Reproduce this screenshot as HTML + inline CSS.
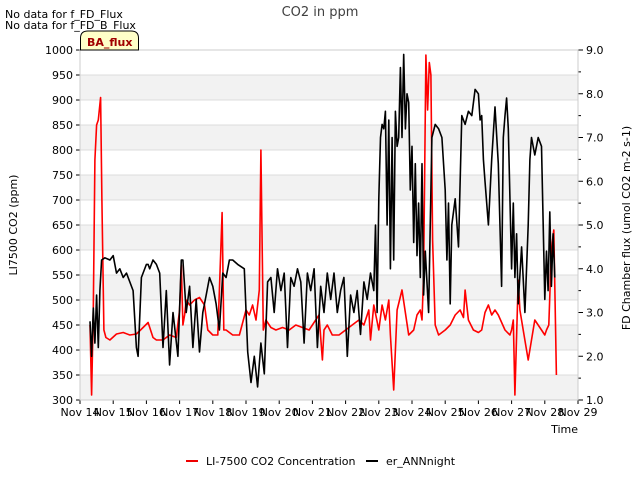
<!DOCTYPE html>
<html><head><meta charset="utf-8"><style>
body{margin:0;background:#fff;font-family:"Liberation Sans","DejaVu Sans",sans-serif}
svg text{font-family:"DejaVu Sans","Liberation Sans",sans-serif}
</style></head><body>
<svg id="c" width="640" height="480" xmlns="http://www.w3.org/2000/svg">
<rect width="640" height="480" fill="#fff"/>
<g id="bands"></g>
<g id="grid"></g>
<g id="series"></g>
<g id="axes"></g>
<text x="320" y="16" text-anchor="middle" font-size="13" fill="#404040">CO2 in ppm</text>
<text x="5" y="18" font-size="11" fill="#000">No data for f_FD_Flux</text>
<text x="5" y="29" font-size="11" fill="#000">No data for f_FD_B_Flux</text>
<g>
<path d="M80.5,50 L80.5,38 Q80.5,31 88,31 L131,31 Q138.5,31 138.5,38 L138.5,50 Z" fill="#ffffc8" stroke="#000" stroke-width="1"/>
<text x="87" y="46" font-size="11" font-weight="bold" fill="#a00000">BA_flux</text>
</g>
<text x="17" y="225" font-size="11" fill="#000" text-anchor="middle" transform="rotate(-90 17 225)">LI7500 CO2 (ppm)</text>
<text x="630" y="228" font-size="11" fill="#000" text-anchor="middle" transform="rotate(-90 630 228)">FD Chamber flux (umol CO2 m-2 s-1)</text>
<text x="578" y="433" font-size="11" fill="#000" text-anchor="end">Time</text>
<g>
<line x1="186" y1="461" x2="198" y2="461" stroke="#e00" stroke-width="2"/>
<text x="206" y="465" font-size="11">LI-7500 CO2 Concentration</text>
<line x1="366" y1="461" x2="378" y2="461" stroke="#000" stroke-width="2"/>
<text x="386" y="465" font-size="11">er_ANNnight</text>
</g>
</svg>
<script>
const xTickLabels=["Nov 14","Nov 15","Nov 16","Nov 17","Nov 18","Nov 19","Nov 20","Nov 21","Nov 22","Nov 23","Nov 24","Nov 25","Nov 26","Nov 27","Nov 28","Nov 29"];
const leftTicks=[300,350,400,450,500,550,600,650,700,750,800,850,900,950,1000];
const rightTicks=[1.0,2.0,3.0,4.0,5.0,6.0,7.0,8.0,9.0];
const redDays=[14.3,14.35,14.4,14.45,14.5,14.55,14.62,14.66,14.72,14.78,14.9,15.1,15.3,15.5,15.7,15.9,16.05,16.2,16.3,16.5,16.7,16.9,17.0,17.05,17.1,17.15,17.2,17.3,17.45,17.6,17.75,17.85,18.0,18.15,18.22,18.28,18.33,18.4,18.6,18.8,19.0,19.1,19.2,19.3,19.4,19.45,19.52,19.6,19.75,19.9,20.1,20.3,20.5,20.7,20.9,21.1,21.2,21.3,21.35,21.45,21.6,21.8,22.0,22.2,22.4,22.55,22.7,22.75,22.85,23.0,23.1,23.2,23.3,23.35,23.45,23.55,23.7,23.9,24.05,24.15,24.25,24.3,24.35,24.42,24.47,24.52,24.57,24.62,24.7,24.8,25.0,25.15,25.3,25.45,25.55,25.6,25.7,25.85,26.0,26.1,26.2,26.3,26.4,26.5,26.6,26.8,26.95,27.0,27.05,27.1,27.2,27.25,27.35,27.5,27.7,27.9,28.0,28.05,28.12,28.2,28.27,28.35];
const redValues=[450,310,480,780,850,860,905,700,440,425,420,432,435,430,432,445,455,425,420,420,430,425,480,570,450,470,500,490,500,505,490,440,430,430,560,675,440,440,430,430,480,470,490,460,520,800,440,460,445,440,445,440,450,445,440,460,470,380,440,450,430,430,440,450,460,450,480,420,490,440,490,460,500,430,320,480,520,430,440,470,480,460,550,990,880,975,950,620,450,430,440,450,470,480,465,520,460,440,435,440,475,490,470,480,470,440,430,440,460,310,540,480,440,380,460,440,430,440,450,600,640,350,620,600];
const blackDays=[14.3,14.35,14.4,14.45,14.5,14.55,14.6,14.65,14.75,14.9,15.0,15.1,15.2,15.3,15.4,15.5,15.6,15.7,15.75,15.85,16.0,16.05,16.1,16.2,16.3,16.4,16.5,16.6,16.7,16.8,16.95,17.05,17.1,17.2,17.3,17.4,17.5,17.6,17.7,17.8,17.9,18.0,18.1,18.2,18.3,18.4,18.5,18.6,18.75,18.95,19.05,19.15,19.25,19.35,19.45,19.55,19.65,19.75,19.85,19.95,20.05,20.15,20.25,20.35,20.45,20.55,20.65,20.75,20.85,20.95,21.05,21.15,21.25,21.35,21.45,21.55,21.65,21.75,21.85,21.95,22.05,22.15,22.25,22.35,22.45,22.55,22.65,22.75,22.85,22.9,22.95,23.0,23.05,23.1,23.15,23.2,23.25,23.3,23.35,23.4,23.45,23.5,23.55,23.6,23.65,23.7,23.75,23.8,23.85,23.9,23.95,24.0,24.05,24.1,24.15,24.2,24.25,24.3,24.35,24.4,24.5,24.6,24.7,24.8,24.9,25.0,25.05,25.1,25.15,25.2,25.3,25.4,25.5,25.6,25.7,25.8,25.9,26.0,26.05,26.1,26.15,26.2,26.3,26.4,26.5,26.6,26.7,26.75,26.8,26.85,26.9,27.0,27.05,27.1,27.15,27.2,27.3,27.4,27.5,27.55,27.6,27.7,27.8,27.9,28.0,28.05,28.1,28.15,28.2,28.25,28.3,28.38];
const blackValues=[2.8,2.0,3.1,2.3,3.4,2.2,3.5,4.2,4.25,4.2,4.3,3.9,4.0,3.8,3.9,3.7,3.5,2.2,2.0,3.8,4.1,4.1,4.0,4.2,4.1,3.9,2.2,3.5,1.8,3.0,2.0,4.2,4.2,3.0,3.6,2.2,3.3,2.1,3.0,3.4,3.8,3.6,3.2,2.6,3.9,3.8,4.2,4.2,4.1,4.0,2.1,1.4,2.0,1.3,2.3,1.6,3.7,3.8,3.0,4.0,3.5,3.9,2.2,3.8,3.6,4.0,3.7,2.3,3.9,3.5,4.0,2.2,3.6,3.0,3.9,3.3,3.9,3.0,3.5,3.8,2.0,3.4,3.0,3.5,2.5,3.7,3.3,3.9,3.5,5.0,3.0,5.6,7.0,7.3,7.2,7.6,5.0,7.4,4.0,7.0,4.2,7.6,6.8,7.0,8.6,7.0,8.9,7.2,8.0,7.8,5.8,6.8,4.6,6.4,4.3,5.5,3.8,6.4,3.4,4.4,3.0,7.0,7.3,7.2,7.0,5.8,4.2,5.5,3.2,5.0,5.6,4.5,7.5,7.3,7.6,7.5,8.1,8.0,7.4,7.5,6.5,6.0,5.0,6.5,7.7,6.4,3.6,7.0,7.5,7.9,7.2,4.0,5.5,3.8,4.8,3.2,4.5,3.0,5.0,6.5,7.0,6.6,7.0,6.8,3.3,4.4,3.5,5.3,3.6,4.8,3.8];
const X0=80,X1=578,Y0=400,Y1=50;
const xS=d=>X0+(d-14)*(X1-X0)/15;
const yL=v=>Y0-(v-300)*(Y0-Y1)/700;
const yR=v=>Y0-(v-1)*(Y0-Y1)/8;
const NS='http://www.w3.org/2000/svg';
function mk(t,a,p){const e=document.createElementNS(NS,t);for(const k in a)e.setAttribute(k,a[k]);p.appendChild(e);return e;}
const bands=document.getElementById('bands'),grid=document.getElementById('grid'),axes=document.getElementById('axes'),ser=document.getElementById('series');
for(let i=0;i<leftTicks.length-1;i+=2){
 const r=mk('rect',{x:X0,y:yL(leftTicks[i+1]),width:X1-X0,height:yL(leftTicks[i])-yL(leftTicks[i+1]),fill:'#f2f2f2'},bands);
 
 
}
leftTicks.forEach(v=>{
 const y=yL(v);
 const g=mk('line',{x1:X0,x2:X1,y1:y,y2:y,stroke:'#dcdcdc','stroke-width':1},grid);
 
 
 mk('line',{x1:X0-4,x2:X0,y1:y,y2:y,stroke:'#000'},axes);
 const t=mk('text',{x:X0-7,y:y+4,'text-anchor':'end','font-size':11},axes);t.textContent=v;
 
 
});
for(let v=1;v<=9.001;v+=0.5){const y=yR(v);mk('line',{x1:X1,x2:X1+(Math.abs(v-Math.round(v))<0.01?5:3),y1:y,y2:y,stroke:'#000'},axes);}
rightTicks.forEach(v=>{
 const t=mk('text',{x:X1+8,y:yR(v)+4,'font-size':11},axes);t.textContent=v.toFixed(1);
 
 
});
xTickLabels.forEach((l,i)=>{
 const x=xS(14+i);
 mk('line',{x1:x,x2:x,y1:Y0,y2:Y0+4,stroke:'#000'},axes);
 const t=mk('text',{x:x,y:Y0+16,'text-anchor':'middle','font-size':11},axes);t.textContent=l;
 
 
});
mk('rect',{x:X0,y:Y1,width:X1-X0,height:Y0-Y1,fill:'none',stroke:'#ccc'},axes);
const pr=mk('polyline',{points:redDays.map((d,i)=>xS(d).toFixed(1)+','+yL(redValues[i]).toFixed(1)).join(' '),fill:'none',stroke:'#f00','stroke-width':1.6,'stroke-linejoin':'round'},ser);


const pb=mk('polyline',{points:blackDays.map((d,i)=>xS(d).toFixed(1)+','+yR(blackValues[i]).toFixed(1)).join(' '),fill:'none',stroke:'#000','stroke-width':1.6,'stroke-linejoin':'round'},ser);


</script>
</body></html>
